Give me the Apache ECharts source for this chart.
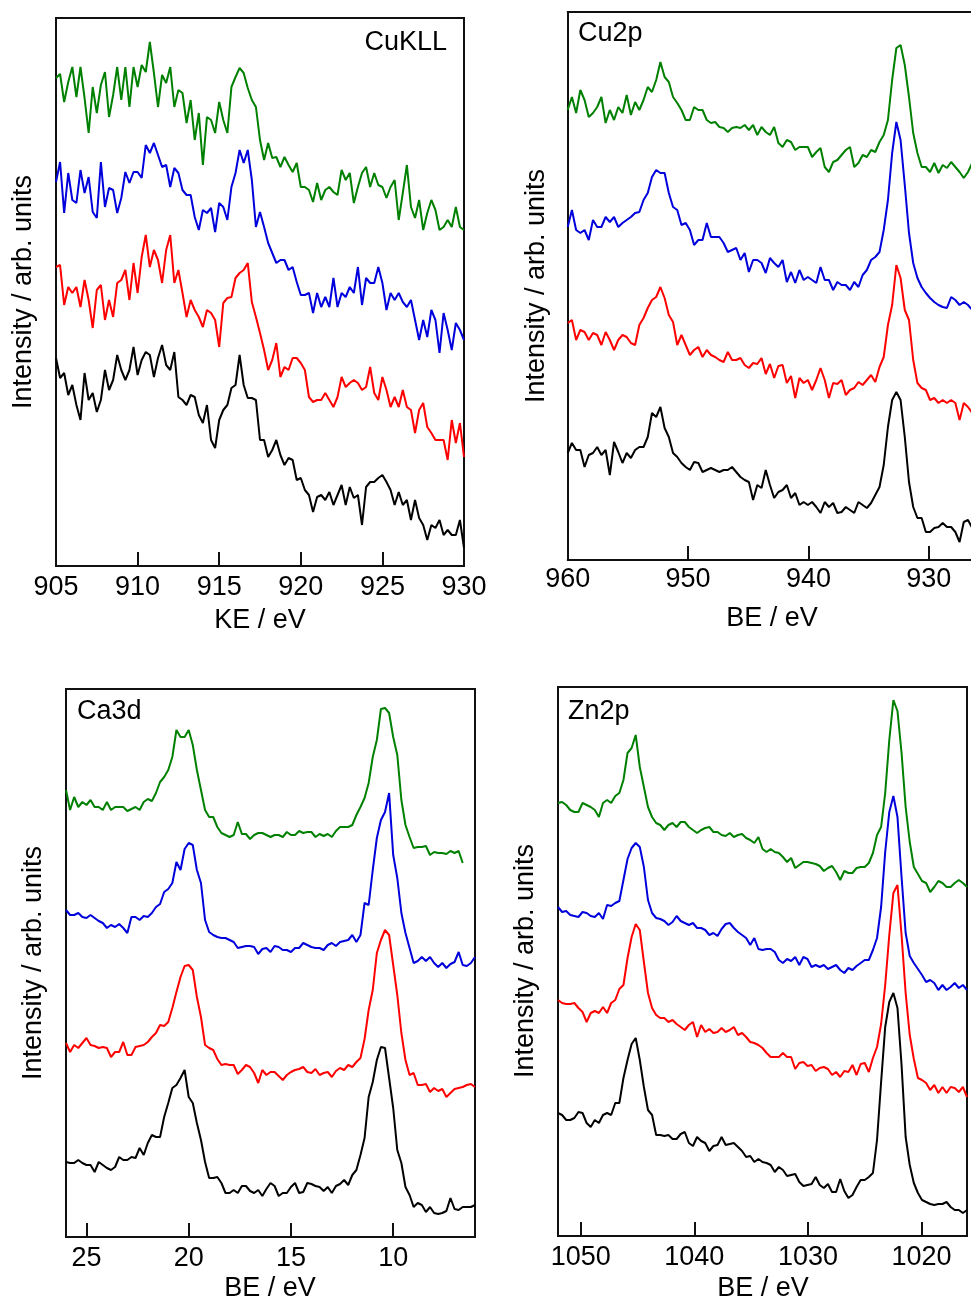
<!DOCTYPE html>
<html>
<head>
<meta charset="utf-8">
<script src="https://cdn.jsdelivr.net/npm/echarts@6/dist/echarts.min.js"></script>
<style>
  html, body { margin: 0; padding: 0; background: #fff; }
  #chart { width: 971px; height: 1304px; }
</style>
</head>
<body>
<div id="chart"></div>
<script>
// ---- Cu KLL Auger region (kinetic energy, eV) ----
const kllStart = 905, kllStep = 0.25;
const kllTicks = [905, 910, 915, 920, 925, 930];
const kllGreen = [
  488,492,464,484,499,469,499,468,433,479,
  453,481,494,449,471,499,466,499,459,499,
  479,501,494,524,493,459,491,483,499,459,
  476,473,443,466,426,453,401,449,446,433,
  464,446,433,479,489,498,493,478,466,459,
  426,406,423,408,409,399,409,401,394,403,
  379,379,376,364,383,366,376,379,374,371,
  396,386,393,363,379,393,399,379,393,381,
  379,368,379,386,346,373,401,359,348,366,
  336,353,366,356,336,339,346,339,359,339,
  336];
const kllBlue = [
  384,404,353,393,366,363,396,373,389,354,
  348,404,359,378,376,353,368,394,383,394,
  394,388,421,413,423,411,399,401,379,398,
  393,376,371,371,349,336,356,353,358,334,
  363,359,346,379,393,416,403,416,386,339,
  354,339,323,313,303,306,306,296,299,284,
  271,271,273,253,273,259,269,259,288,259,
  273,269,279,273,299,261,288,283,283,299,
  283,256,273,266,273,264,259,266,246,226,
  246,229,256,246,213,253,236,216,243,236,
  226];
const kllRed = [
  299,301,261,279,273,279,259,286,266,238,
  276,281,246,266,249,283,286,296,266,303,
  273,309,331,299,316,306,283,316,331,283,
  296,273,249,266,256,249,239,256,253,246,
  219,263,268,269,288,293,296,303,264,249,
  233,216,196,206,223,189,199,196,208,208,
  203,196,169,164,166,166,173,166,159,169,
  189,179,183,186,183,176,179,199,173,166,
  189,176,159,169,159,176,159,156,133,156,
  163,139,133,126,126,126,106,146,123,143,
  109];
const kllBlack = [
  208,188,193,171,181,161,146,193,166,173,
  154,166,196,176,186,211,196,186,196,219,
  191,206,214,211,189,208,221,201,196,214,
  169,166,161,171,169,151,143,161,126,118,
  146,156,161,178,181,211,181,168,168,166,
  126,126,109,116,126,111,101,108,106,86,
  88,76,71,54,69,71,66,74,61,71,
  81,61,79,68,71,41,79,84,84,88,
  91,84,76,61,74,61,66,46,66,48,
  41,26,41,38,46,31,36,31,31,46,
  18];

// ---- Cu 2p region (binding energy, eV) ----
const cu2pStart = 960, cu2pStep = -0.35;
const cu2pTicks = [930, 940, 950, 960];
const cu2pGreen = [
  450,463,447,470,460,443,447,453,463,437,
  450,440,453,447,465,445,458,450,460,473,
  468,480,498,483,478,463,457,450,440,440,
  453,450,450,440,437,438,433,432,428,432,
  433,432,435,430,435,425,433,428,425,433,
  417,413,420,418,410,413,413,413,403,408,
  412,393,388,398,400,405,410,413,393,397,
  405,403,410,408,418,425,440,480,512,515,
  495,463,427,407,393,393,388,397,387,395,
  392,398,393,388,382,388,397];
const cu2pBlue = [
  333,350,330,327,330,320,340,333,333,343,
  338,343,333,337,340,343,347,348,360,367,
  383,390,387,387,367,353,350,335,337,330,
  315,320,320,337,323,323,323,317,308,310,
  312,300,307,288,300,300,297,287,302,297,
  293,300,278,288,277,290,280,283,280,277,
  293,280,280,270,278,275,275,270,278,273,
  285,290,300,303,308,330,360,407,438,420,
  375,327,297,282,273,267,262,258,255,253,
  252,263,260,255,258,255,250];
const cu2pRed = [
  237,240,220,230,228,220,227,225,215,228,
  220,210,220,225,223,217,215,235,242,252,
  260,263,273,262,245,238,215,225,215,205,
  210,213,203,210,205,203,200,198,208,200,
  200,202,195,192,197,196,202,186,196,182,
  194,195,177,184,162,182,177,180,170,180,
  192,180,162,177,176,180,165,170,172,178,
  175,180,185,178,193,203,235,255,295,282,
  250,240,200,177,172,170,160,162,157,160,
  157,160,157,140,157,153,147];
const cu2pBlack = [
  107,117,110,110,93,105,107,113,105,110,
  85,118,108,97,107,102,110,113,113,123,
  147,143,153,132,123,107,103,97,93,90,
  98,97,88,90,92,90,88,90,90,93,
  88,83,80,78,60,75,72,90,75,62,
  68,70,75,62,67,55,58,55,58,53,
  47,58,53,57,47,48,53,50,47,58,
  55,52,57,65,73,95,133,160,168,160,
  123,78,53,42,42,28,28,32,33,37,
  33,33,28,18,38,40,32];

// ---- Ca 3d / valence region (binding energy, eV) ----
const ca3dStart = 26, ca3dStep = -0.2;
const ca3dTicks = [10, 15, 20, 25];
const ca3dGreen = [
  447,427,440,430,435,432,437,430,430,427,
  435,427,430,430,430,426,428,430,427,435,
  438,436,444,455,460,467,480,507,500,500,
  507,492,467,447,427,420,420,410,404,402,
  400,402,415,403,403,398,402,404,404,402,
  400,402,402,400,405,402,402,406,404,405,
  405,400,403,401,403,400,406,410,410,410,
  412,422,430,439,454,480,497,528,529,524,
  500,482,437,412,400,389,390,390,391,382,
  385,384,384,383,386,384,386,374];
const ca3dBlue = [
  327,322,322,324,320,319,322,319,316,314,
  309,312,310,313,309,304,320,320,317,321,
  320,324,330,333,345,348,354,375,367,388,
  394,392,367,354,317,305,302,300,299,299,
  297,295,289,290,291,291,290,283,288,289,
  285,291,290,287,287,285,289,289,294,292,
  290,289,289,287,292,294,291,295,296,297,
  302,295,302,334,332,367,399,417,425,444,
  382,359,324,304,289,274,276,280,276,280,
  274,270,274,269,273,275,285,272,271,274,
  280];
const ca3dRed = [
  194,185,192,189,194,199,192,191,189,190,
  189,180,185,185,195,182,182,190,191,192,
  195,200,204,212,211,215,229,245,260,271,
  272,267,240,220,192,189,187,178,172,173,
  172,172,163,167,172,170,164,154,167,162,
  165,165,161,157,162,165,167,168,170,165,
  164,168,162,164,165,160,166,169,167,172,
  170,175,179,198,227,247,284,297,307,302,
  272,242,204,177,162,164,152,152,153,145,
  149,146,148,140,144,148,149,150,152,153,
  150];
const ca3dBlack = [
  75,74,74,77,74,72,72,65,75,72,
  69,67,70,80,77,77,80,79,89,82,
  94,102,100,100,120,134,149,152,159,167,
  140,134,114,97,75,59,59,60,54,44,
  44,47,44,51,51,46,44,47,41,48,
  54,51,41,44,44,50,54,44,45,54,
  53,51,50,46,50,44,51,53,57,52,
  62,67,82,99,140,155,177,190,189,159,
  129,87,74,50,42,30,34,32,25,30,
  24,23,24,26,39,28,27,30,30,30,
  32];

// ---- Zn 2p region (binding energy, eV) ----
const zn2pStart = 1052, zn2pStep = -0.36;
const zn2pTicks = [1020, 1030, 1040, 1050];
const zn2pGreen = [
  433,434,431,426,424,424,433,431,429,426,
  419,433,436,433,440,443,456,483,488,501,
  469,449,429,419,413,411,406,411,413,409,
  414,414,409,406,403,406,408,409,404,404,
  401,400,403,399,401,402,398,396,393,399,
  387,384,387,384,383,379,374,378,368,371,
  374,374,373,372,370,365,368,370,364,356,
  365,363,363,368,369,369,373,383,401,409,
  443,496,536,525,483,429,394,369,362,355,
  353,344,349,355,353,349,349,353,356,353,
  349];
const zn2pBlue = [
  329,324,325,321,320,319,324,323,320,319,
  323,317,331,330,333,335,356,377,388,393,
  389,369,336,323,318,317,315,311,314,320,
  315,313,311,313,308,308,306,301,303,300,
  307,312,313,308,304,301,298,291,298,287,
  286,287,287,284,276,273,277,275,279,271,
  279,277,269,271,269,271,267,269,271,266,
  263,268,266,270,273,276,276,286,298,329,
  384,424,440,419,359,303,280,273,267,261,
  254,256,253,246,251,246,249,253,248,251,
  246];
const zn2pRed = [
  236,233,232,232,233,228,224,214,223,225,
  223,229,223,233,236,247,251,278,299,312,
  306,274,243,228,221,218,218,214,216,212,
  209,206,211,214,199,211,204,207,203,204,
  208,204,206,209,201,203,199,194,193,191,
  188,183,179,179,179,183,179,179,167,173,
  174,170,171,165,168,169,167,161,164,159,
  165,164,171,161,172,173,164,178,189,212,
  251,301,343,351,301,243,201,177,158,156,
  153,146,151,143,149,143,149,148,144,149,
  139];
const zn2pBlack = [
  123,121,116,116,118,124,123,113,109,116,
  113,121,123,121,133,133,158,176,192,198,
  176,149,126,121,101,101,100,101,97,97,
  102,104,93,90,99,95,93,85,90,91,
  99,91,92,93,89,85,79,80,74,77,
  74,73,71,64,69,66,60,61,62,54,
  50,51,52,59,51,48,52,44,44,57,
  45,38,41,49,56,56,59,63,96,154,
  209,234,243,228,171,99,71,53,43,36,
  34,32,31,32,32,34,29,26,26,23,
  26];

// ---- drawing ----
const FONT = '"Liberation Sans", Arial, Helvetica, sans-serif';
const FS = 27;
const INK = '#111';
const COLORS = { green: '#008000', blue: '#0000dc', red: '#ff0000', black: '#000000' };

function scan(start, step, values) {
  return values.map((v, i) => [+(start + step * i).toFixed(3), v]);
}

// The Cu2p frame runs off the right edge of the page, so it is drawn open on that side.
const panels = [
  { grid: { left: 56, top: 18, width: 408, height: 548 }, frame: true, min: 905, max: 930, inverse: false,
    ticks: kllTicks, margin: 8, ymax: 548, start: kllStart, step: kllStep,
    curves: [kllGreen, kllBlue, kllRed, kllBlack] },
  { grid: { left: 567.7, top: 12, right: 0, height: 548 }, frame: false, min: 926.5, max: 960, inverse: true,
    ticks: cu2pTicks, margin: 6, ymax: 548, start: cu2pStart, step: cu2pStep,
    curves: [cu2pGreen, cu2pBlue, cu2pRed, cu2pBlack] },
  { grid: { left: 66, top: 689, width: 409, height: 548 }, frame: true, min: 6, max: 26, inverse: true,
    ticks: ca3dTicks, margin: 8, ymax: 548, start: ca3dStart, step: ca3dStep,
    curves: [ca3dGreen, ca3dBlue, ca3dRed, ca3dBlack] },
  { grid: { left: 558, top: 687, width: 409, height: 549 }, frame: true, min: 1016, max: 1052, inverse: true,
    ticks: zn2pTicks, margin: 8, ymax: 549, start: zn2pStart, step: zn2pStep,
    curves: [zn2pGreen, zn2pBlue, zn2pRed, zn2pBlack] }
];

const colorOrder = [COLORS.green, COLORS.blue, COLORS.red, COLORS.black];

const grid = [], xAxis = [], yAxis = [], series = [];
panels.forEach((p, k) => {
  grid.push(Object.assign({ show: p.frame, borderColor: INK, borderWidth: 2, containLabel: false }, p.grid));
  xAxis.push({
    type: 'value', gridIndex: k, min: p.min, max: p.max, inverse: p.inverse,
    axisLine: { show: !p.frame, onZero: false, lineStyle: { color: INK, width: 2 } },
    splitLine: { show: false },
    axisTick: { show: true, inside: true, length: 14, customValues: p.ticks,
                lineStyle: { color: INK, width: 2 } },
    axisLabel: { show: true, customValues: p.ticks, margin: p.margin, showMinLabel: true, showMaxLabel: true,
                 fontSize: FS, fontFamily: FONT, color: '#000', formatter: v => String(v) }
  });
  yAxis.push({
    type: 'value', gridIndex: k, min: 0, max: p.ymax,
    axisLine: { show: !p.frame, onZero: false, lineStyle: { color: INK, width: 2 } },
    axisTick: { show: false }, axisLabel: { show: false }, splitLine: { show: false }
  });
  if (!p.frame) {
    // top edge of the open frame, as a second x axis
    xAxis.push({
      type: 'value', gridIndex: k, position: 'top', min: p.min, max: p.max, inverse: p.inverse,
      axisLine: { show: true, onZero: false, lineStyle: { color: INK, width: 2 } },
      axisTick: { show: false }, axisLabel: { show: false }, splitLine: { show: false }
    });
  }
});

// series after axes so the index of each panel's main x axis is known
let xi = 0;
panels.forEach((p, k) => {
  p.curves.forEach((vals, j) => {
    series.push({
      type: 'line', xAxisIndex: xi, yAxisIndex: k,
      data: scan(p.start, p.step, vals),
      showSymbol: false, symbol: 'none', silent: true, clip: true,
      lineStyle: { color: colorOrder[j], width: 2 },
      emphasis: { disabled: true }
    });
  });
  xi += p.frame ? 1 : 2;
});

function label(text, x, y, opts) {
  const o = opts || {};
  return {
    type: 'text', x: x, y: y, rotation: o.rotation || 0, silent: true, z: 100,
    style: {
      text: text, fontSize: FS, fontFamily: FONT, fill: '#000',
      textAlign: o.align || 'center', textVerticalAlign: 'middle',
      align: o.align || 'center', verticalAlign: 'middle'
    }
  };
}

const graphic = [
  label('CuKLL', 447, 43, { align: 'right' }),
  label('Cu2p', 578, 34, { align: 'left' }),
  label('Ca3d', 77, 712, { align: 'left' }),
  label('Zn2p', 568, 712, { align: 'left' }),
  label('Intensity / arb. units', 24, 292, { rotation: Math.PI / 2 }),
  label('Intensity / arb. units', 537, 286, { rotation: Math.PI / 2 }),
  label('Intensity / arb. units', 34, 963, { rotation: Math.PI / 2 }),
  label('Intensity / arb. units', 526, 961, { rotation: Math.PI / 2 }),
  label('KE / eV', 260, 621),
  label('BE / eV', 772, 619),
  label('BE / eV', 270, 1289),
  label('BE / eV', 763, 1289)
];

const chart = echarts.init(document.getElementById('chart'), null, { renderer: 'canvas' });
chart.setOption({
  animation: false,
  backgroundColor: '#ffffff',
  grid: grid,
  xAxis: xAxis,
  yAxis: yAxis,
  series: series,
  graphic: graphic
});
</script>
</body>
</html>
